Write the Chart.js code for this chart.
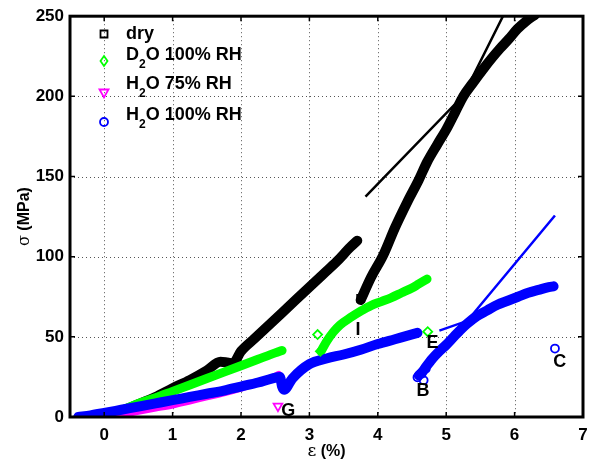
<!DOCTYPE html>
<html>
<head>
<meta charset="utf-8">
<script src="https://cdn.jsdelivr.net/npm/chart.js@4"></script>
<style>
  body { margin: 0; background: #fff; }
  canvas { display: block; }
</style>
</head>
<body>
<canvas id="c" width="606" height="463"></canvas>
<script>
// axis ticks
const xTicks = [0, 1, 2, 3, 4, 5, 6, 7]
const yTicks = [0, 50, 100, 150, 200, 250]

// dry
const dryX1 = [0.1, 0.3, 0.5, 0.75, 1.0, 1.25, 1.5, 1.7, 1.8, 1.88, 2.0, 2.2, 2.4, 2.6, 2.8, 3.0, 3.2, 3.4, 3.6, 3.7]
const dryY1 = [2, 4.5, 8, 12.5, 18, 23, 29, 34.5, 34, 33.5, 41, 49, 57, 65, 73, 81, 89, 97, 106, 110]
const dryX2 = [3.75, 3.9, 4.08, 4.25, 4.43, 4.6, 4.72, 4.87, 5.01, 5.13, 5.25, 5.4, 5.54, 5.67, 5.79, 5.92, 6.04, 6.17, 6.3]
const dryY2 = [73, 87, 101, 118, 134, 148, 159, 170, 180, 190, 200, 209, 217, 224, 230, 236, 242, 247, 251]
const dryMarkX = [3.75]
const dryMarkY = [74]
const dryFitX = [3.82, 5.25, 5.83]
const dryFitY = [137.5, 200.5, 250]

// D2O 100% RH
const d2oX1 = [0.1, 0.3, 0.5, 0.75, 1.0, 1.25, 1.5, 1.75, 2.0, 2.25, 2.5, 2.6]
const d2oY1 = [2, 5, 8.5, 12, 16, 20, 24, 28, 32, 36, 40, 41.5]
const d2oX2 = [3.17, 3.25, 3.35, 3.45, 3.6, 3.75, 3.9, 4.05, 4.2, 4.35, 4.5, 4.6, 4.72]
const d2oY2 = [41, 47, 53, 57.5, 62, 66, 69.5, 72, 74.5, 77.5, 80.5, 83, 86]
const d2oMarkX = [3.12, 3.16, 4.73]
const d2oMarkY = [51.4, 41, 53.2]

// H2O 75% RH
const h75X = [0.0, 0.25, 0.5, 0.75, 1.0, 1.25, 1.5, 1.75, 2.0, 2.25, 2.45, 2.55]
const h75Y = [-0.5, 1.5, 3.5, 5.5, 7.5, 10, 12.5, 15, 18, 21.5, 24.5, 26.5]
const h75MarkX = [2.54]
const h75MarkY = [6.8]

// H2O 100% RH
const h100X1 = [-0.38, -0.2, 0, 0.25, 0.5, 0.75, 1.0, 1.25, 1.5, 1.75, 2.0, 2.25, 2.45, 2.57, 2.6, 2.63, 2.75, 3.0, 3.25, 3.5, 3.75, 4.0, 4.25, 4.5, 4.58]
const h100Y1 = [0, 1, 2.5, 4.5, 6.5, 8.5, 10.5, 12.5, 14.5, 16.5, 19, 21.5, 24, 25, 19, 17, 24, 33, 36.5, 39, 42, 45.5, 48.5, 51.5, 52.5]
const h100X2 = [4.6, 4.65, 4.7, 4.8, 4.9, 5.0, 5.1, 5.2, 5.3, 5.45, 5.6, 5.75, 5.9, 6.05, 6.2, 6.35, 6.5, 6.57]
const h100Y2 = [26, 28, 31, 36.5, 41, 45, 49.5, 54, 58, 63, 66.5, 70, 72.5, 75, 77.5, 79.3, 81, 81.5]
const h100MarkX = [4.58, 4.67, 4.64, 4.7, 6.59]
const h100MarkY = [24.8, 22.9, 27, 30, 42.7]
const h100FitX = [4.90, 5.31, 6.59]
const h100FitY = [53.9, 60, 125.7]

// letters next to points
const noteText = ['I', 'E', 'B', 'C', 'G']
const noteX = [3.71, 4.8, 4.66, 6.66, 2.69]
const noteY = [54, 46, 16, 34, 3.7]

const black = '#000000'
const green = '#00ff00'
const magenta = '#ff00ff'
const blue = '#0000ff'
const gridColor = '#555555'
const boldFont = '"Liberation Sans", Arial, sans-serif'

const pts = (xs, ys) => xs.map((x, i) => ({ x: x, y: ys[i] }))

const band = (xs, ys, color, width, order) => ({
  data: pts(xs, ys),
  showLine: true,
  borderColor: color,
  borderWidth: width,
  borderCapStyle: 'round',
  borderJoinStyle: 'round',
  cubicInterpolationMode: 'monotone',
  pointRadius: 0,
  order: order
})

const marks = (xs, ys, color, style, radius, rotation, order) => ({
  data: pts(xs, ys),
  showLine: false,
  pointStyle: style,
  pointRadius: radius,
  pointRotation: rotation,
  pointBorderColor: color,
  pointBorderWidth: 1.8,
  pointBackgroundColor: 'rgba(0,0,0,0)',
  order: order
})

const fit = (xs, ys, color) => ({
  data: pts(xs, ys),
  showLine: true,
  borderColor: color,
  borderWidth: 2.5,
  pointRadius: 0,
  order: 0
})

const drawMarker = (ctx, style, x, y, color) => {
  ctx.save()
  ctx.strokeStyle = color
  ctx.lineWidth = 1.8
  ctx.beginPath()
  if (style === 'square') {
    ctx.rect(x - 3.5, y - 3.5, 7, 7)
  } else if (style === 'diamond') {
    ctx.moveTo(x, y - 5); ctx.lineTo(x + 3.5, y); ctx.lineTo(x, y + 5); ctx.lineTo(x - 3.5, y); ctx.closePath()
  } else if (style === 'down') {
    ctx.moveTo(x - 4.5, y - 3.5); ctx.lineTo(x + 4.5, y - 3.5); ctx.lineTo(x, y + 4.5); ctx.closePath()
  } else {
    ctx.arc(x, y, 4, 0, Math.PI * 2)
  }
  ctx.stroke()
  ctx.restore()
}

// text with a subscript part: parts = [[text, isSub], ...]
const drawRich = (ctx, parts, x, y) => {
  let cx = x
  parts.forEach(p => {
    ctx.font = p[1] ? 'bold 12px ' + boldFont : 'bold 18px ' + boldFont
    ctx.fillText(p[0], cx, p[1] ? y + 8 : y)
    cx += ctx.measureText(p[0]).width
  })
}

const decor = {
  id: 'decor',
  beforeDatasetsDraw(chart) {
    const ctx = chart.ctx
    const a = chart.chartArea
    const xs = chart.scales.x
    const ys = chart.scales.y
    ctx.save()
    ctx.strokeStyle = gridColor
    ctx.lineWidth = 1
    ctx.setLineDash([1, 3])
    ctx.beginPath()
    xTicks.forEach(v => {
      const px = Math.round(xs.getPixelForValue(v)) + 0.5
      ctx.moveTo(px, a.top); ctx.lineTo(px, a.bottom)
    })
    yTicks.forEach(v => {
      const py = Math.round(ys.getPixelForValue(v)) + 0.5
      ctx.moveTo(a.left, py); ctx.lineTo(a.right, py)
    })
    ctx.stroke()
    ctx.restore()
  },
  afterDatasetsDraw(chart) {
    const ctx = chart.ctx
    const a = chart.chartArea
    const xs = chart.scales.x
    const ys = chart.scales.y
    ctx.save()

    // box and inward ticks
    ctx.strokeStyle = black
    ctx.lineWidth = 3
    ctx.strokeRect(a.left, a.top, a.right - a.left, a.bottom - a.top)
    ctx.lineWidth = 1.5
    ctx.beginPath()
    xTicks.forEach(v => {
      const px = xs.getPixelForValue(v)
      ctx.moveTo(px, a.bottom); ctx.lineTo(px, a.bottom - 5)
      ctx.moveTo(px, a.top); ctx.lineTo(px, a.top + 5)
    })
    yTicks.forEach(v => {
      const py = ys.getPixelForValue(v)
      ctx.moveTo(a.left, py); ctx.lineTo(a.left + 5, py)
      ctx.moveTo(a.right, py); ctx.lineTo(a.right - 5, py)
    })
    ctx.stroke()

    // letters
    ctx.fillStyle = black
    ctx.font = 'bold 18px ' + boldFont
    ctx.textAlign = 'center'
    ctx.textBaseline = 'middle'
    noteText.forEach((t, i) => {
      ctx.fillText(t, xs.getPixelForValue(noteX[i]), ys.getPixelForValue(noteY[i]))
    })

    // legend
    const lx = a.left + 34
    const tx = a.left + 56
    drawMarker(ctx, 'square', lx, 34, black)
    drawMarker(ctx, 'diamond', lx, 61, green)
    drawMarker(ctx, 'down', lx, 93, magenta)
    drawMarker(ctx, 'circle', lx, 122, blue)
    ctx.textAlign = 'left'
    ctx.textBaseline = 'alphabetic'
    drawRich(ctx, [['dry', false]], tx, 39)
    drawRich(ctx, [['D', false], ['2', true], ['O 100% RH', false]], tx, 60)
    drawRich(ctx, [['H', false], ['2', true], ['O 75% RH', false]], tx, 89)
    drawRich(ctx, [['H', false], ['2', true], ['O 100% RH', false]], tx, 120)

    // axis titles
    ctx.textBaseline = 'middle'
    ctx.font = '17px "DejaVu Serif", serif'
    const e = 'ε'
    const rest = ' (%)'
    const ew = ctx.measureText(e).width
    ctx.font = 'bold 16px ' + boldFont
    const rw = ctx.measureText(rest).width
    const cx = (a.left + a.right) / 2 - (ew + rw) / 2
    ctx.font = '17px "DejaVu Serif", serif'
    ctx.fillText(e, cx, 452)
    ctx.font = 'bold 16px ' + boldFont
    ctx.fillText(rest, cx + ew, 452)

    ctx.translate(25, (a.top + a.bottom) / 2)
    ctx.rotate(-Math.PI / 2)
    ctx.font = '16px "DejaVu Serif", serif'
    const s = 'σ'
    const sw = ctx.measureText(s).width
    ctx.font = 'bold 16px ' + boldFont
    const mp = ' (MPa)'
    const mw = ctx.measureText(mp).width
    ctx.font = '16px "DejaVu Serif", serif'
    ctx.fillText(s, -(sw + mw) / 2, 0)
    ctx.font = 'bold 16px ' + boldFont
    ctx.fillText(mp, -(sw + mw) / 2 + sw, 0)

    ctx.restore()
  }
}

new Chart(document.getElementById('c'), {
  type: 'scatter',
  data: {
    datasets: [
      fit(dryFitX, dryFitY, black),
      fit(h100FitX, h100FitY, blue),
      marks(h100MarkX, h100MarkY, blue, 'circle', 4, 0, 1),
      marks(d2oMarkX, d2oMarkY, green, 'rectRot', 4.5, 0, 1),
      marks(h75MarkX, h75MarkY, magenta, 'triangle', 5, 180, 1),
      marks(dryMarkX, dryMarkY, black, 'rect', 5, 0, 1),
      band(h100X1, h100Y1, blue, 10, 2),
      band(h100X2, h100Y2, blue, 10, 2),
      band(h75X, h75Y, magenta, 7, 3),
      band(d2oX1, d2oY1, green, 9, 4),
      band(d2oX2, d2oY2, green, 9, 4),
      band(dryX1, dryY1, black, 10, 5),
      band(dryX2, dryY2, black, 10, 5)
    ]
  },
  options: {
    responsive: false,
    animation: false,
    devicePixelRatio: 1,
    layout: { padding: { left: 0, right: 23, top: 13, bottom: 0 } },
    plugins: {
      legend: { display: false },
      tooltip: { enabled: false }
    },
    scales: {
      x: {
        type: 'linear',
        min: -0.5,
        max: 7,
        afterBuildTicks: s => { s.ticks = xTicks.map(v => ({ value: v })) },
        afterFit: s => { s.height = 46 },
        grid: { display: false, drawTicks: false, tickLength: 0 },
        border: { display: false },
        ticks: { color: black, padding: 8, font: { family: boldFont, size: 17, weight: 'bold' } }
      },
      y: {
        type: 'linear',
        min: 0,
        max: 250,
        afterBuildTicks: s => { s.ticks = yTicks.map(v => ({ value: v })) },
        afterFit: s => { s.width = 70 },
        grid: { display: false, drawTicks: false, tickLength: 0 },
        border: { display: false },
        ticks: { color: black, padding: 6, font: { family: boldFont, size: 17, weight: 'bold' } }
      }
    }
  },
  plugins: [decor]
})
</script>
</body>
</html>
